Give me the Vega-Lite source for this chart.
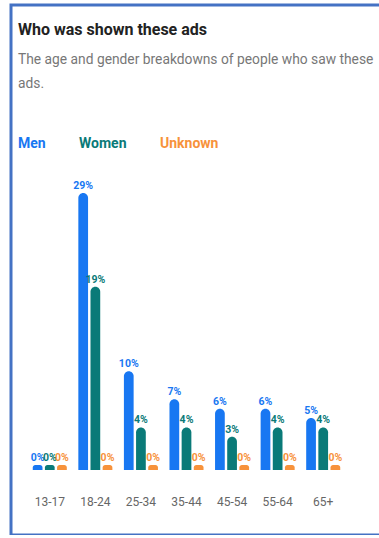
{
  "$schema": "https://vega.github.io/schema/vega-lite/v6.json",
  "autosize": {"type": "none"},
  "width": 400,
  "height": 530,
  "padding": {"left": 11, "top": 5, "right": -32, "bottom": 0},
  "background": "#ffffff",
  "title": {
    "text": "Who was shown these ads",
    "subtitle": ["The age and gender breakdowns of people who saw these", "ads."],
    "anchor": "start",
    "frame": "group",
    "dx": 7,
    "offset": -86
  },
  "data": {
    "values": [
      {"age": "13-17", "gender": "Men", "value": 0},
      {"age": "13-17", "gender": "Women", "value": 0},
      {"age": "13-17", "gender": "Unknown", "value": 0},
      {"age": "18-24", "gender": "Men", "value": 0.29},
      {"age": "18-24", "gender": "Women", "value": 0.19},
      {"age": "18-24", "gender": "Unknown", "value": 0},
      {"age": "25-34", "gender": "Men", "value": 0.10},
      {"age": "25-34", "gender": "Women", "value": 0.04},
      {"age": "25-34", "gender": "Unknown", "value": 0},
      {"age": "35-44", "gender": "Men", "value": 0.07},
      {"age": "35-44", "gender": "Women", "value": 0.04},
      {"age": "35-44", "gender": "Unknown", "value": 0},
      {"age": "45-54", "gender": "Men", "value": 0.06},
      {"age": "45-54", "gender": "Women", "value": 0.03},
      {"age": "45-54", "gender": "Unknown", "value": 0},
      {"age": "55-64", "gender": "Men", "value": 0.06},
      {"age": "55-64", "gender": "Women", "value": 0.04},
      {"age": "55-64", "gender": "Unknown", "value": 0},
      {"age": "65+", "gender": "Men", "value": 0.05},
      {"age": "65+", "gender": "Women", "value": 0.04},
      {"age": "65+", "gender": "Unknown", "value": 0}
    ]
  },
  "encoding": {
    "x": {
      "field": "age",
      "type": "nominal",
      "sort": null,
      "scale": {"range": [16, 335], "paddingInner": 0.253, "paddingOuter": 0.1265},
      "axis": {
        "title": null,
        "orient": "bottom",
        "offset": -41,
        "ticks": false,
        "domain": false,
        "labelAngle": 0,
        "labelPadding": 2,
        "labelFont": "Roboto",
        "labelFontSize": 12,
        "labelColor": "#666666",
        "grid": false
      }
    },
    "xOffset": {
      "field": "gender",
      "type": "nominal",
      "sort": ["Men", "Women", "Unknown"],
      "scale": {"paddingInner": 0.2, "paddingOuter": 0}
    },
    "y": {
      "field": "value",
      "type": "quantitative",
      "scale": {"domain": [0, 0.29], "range": [460, 188], "nice": false, "zero": true},
      "axis": null
    },
    "color": {
      "field": "gender",
      "type": "nominal",
      "sort": ["Men", "Women", "Unknown"],
      "scale": {"domain": ["Men", "Women", "Unknown"], "range": ["#1877F2", "#0A7A78", "#F7923B"]},
      "legend": {
        "title": null,
        "orient": "none",
        "legendX": -7,
        "legendY": 132,
        "direction": "horizontal",
        "symbolSize": 0.01,
        "symbolOpacity": 0,
        "symbolStrokeWidth": 0,
        "labelOffset": 0,
        "columnPadding": 19,
        "labelFont": "Roboto",
        "labelFontSize": 14,
        "labelFontWeight": "bold",
        "labelColor": {"expr": "scale('color', datum.value)"}
      }
    }
  },
  "layer": [
    {
      "mark": {
        "type": "bar",
        "y2Offset": 5,
        "cornerRadiusTopLeft": 5,
        "cornerRadiusTopRight": 5
      },
      "encoding": {"y2": {"datum": 0}}
    },
    {
      "mark": {
        "type": "text",
        "baseline": "bottom",
        "dy": -2,
        "font": "Roboto",
        "fontSize": 10.5,
        "fontWeight": "bold"
      },
      "encoding": {
        "text": {"field": "value", "type": "quantitative", "format": ".0%"}
      }
    }
  ],
  "config": {
    "view": {"stroke": "#4472C4", "strokeWidth": 3},
    "title": {
      "font": "Roboto",
      "fontSize": 16,
      "fontWeight": "bold",
      "color": "#222222",
      "subtitleFont": "Roboto",
      "subtitleFontSize": 13.8,
      "subtitleColor": "#777777",
      "subtitleLineHeight": 24,
      "subtitlePadding": 15
    }
  }
}
